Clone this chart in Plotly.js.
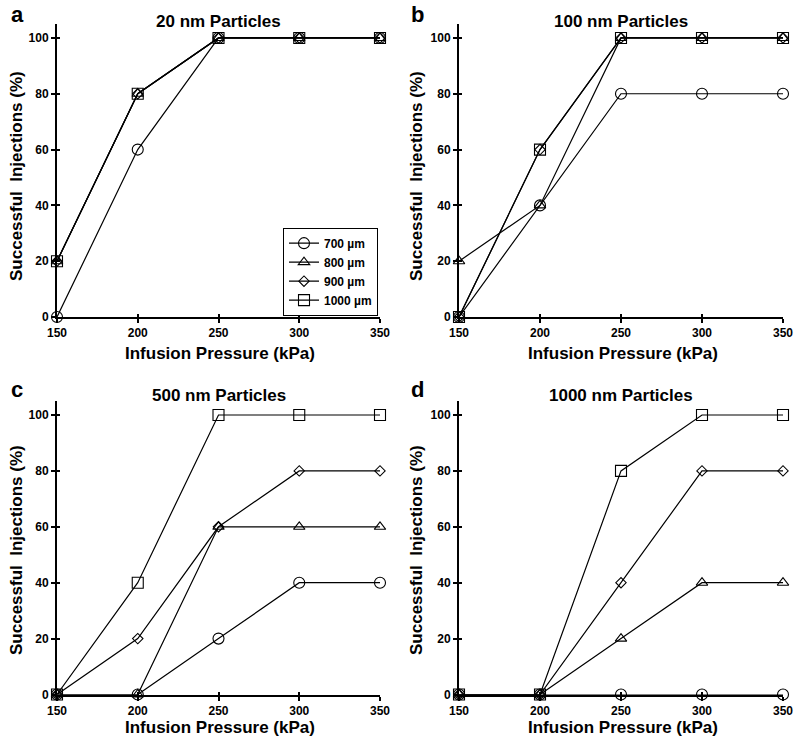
<!DOCTYPE html>
<html>
<head>
<meta charset="utf-8">
<script src="https://cdn.plot.ly/plotly-3.0.1.min.js"></script>
<style>html,body{margin:0;padding:0;background:#fff;}#chart{width:800px;height:748px;}</style>
</head>
<body>
<div id="chart"></div>
<script>
// ---------- data ----------
const pressure = [150, 200, 250, 300, 350];
const seriesNames = ['700 µm', '800 µm', '900 µm', '1000 µm'];
const panelTitles = ['20 nm Particles', '100 nm Particles', '500 nm Particles', '1000 nm Particles'];
const panelLetters = ['a', 'b', 'c', 'd'];
const xTicks = [150, 200, 250, 300, 350];
const yTicks = [0, 20, 40, 60, 80, 100];

// panel a: 20 nm
const a700  = [0, 60, 100, 100, 100];
const a800  = [20, 80, 100, 100, 100];
const a900  = [20, 80, 100, 100, 100];
const a1000 = [20, 80, 100, 100, 100];
// panel b: 100 nm
const b700  = [0, 40, 80, 80, 80];
const b800  = [20, 40, 100, 100, 100];
const b900  = [0, 60, 100, 100, 100];
const b1000 = [0, 60, 100, 100, 100];
// panel c: 500 nm
const c700  = [0, 0, 20, 40, 40];
const c800  = [0, 0, 60, 60, 60];
const c900  = [0, 20, 60, 80, 80];
const c1000 = [0, 40, 100, 100, 100];
// panel d: 1000 nm
const d700  = [0, 0, 0, 0, 0];
const d800  = [0, 0, 20, 40, 40];
const d900  = [0, 0, 40, 80, 80];
const d1000 = [0, 0, 80, 100, 100];

const panels = [
  [a700, a800, a900, a1000],
  [b700, b800, b900, b1000],
  [c700, c800, c900, c1000],
  [d700, d800, d900, d1000]
];

// ---------- styling ----------
const FONT = 'Liberation Sans, Arial, Helvetica, sans-serif';
const symbols = ['circle-open', 'triangle-up-open', 'diamond-open', 'square-open'];
const msizes = [11, 10, 8, 11];

const xDomains = [[0.07125, 0.475], [0.57375, 0.97875], [0.07125, 0.475], [0.57375, 0.97875]];
const yDomains = [[0.5762, 0.9679], [0.5762, 0.9679], [0.0715, 0.4639], [0.0715, 0.4639]];

const traces = [];
panels.forEach((series, p) => {
  const xa = p === 0 ? 'x' : 'x' + (p + 1);
  const ya = p === 0 ? 'y' : 'y' + (p + 1);
  series.forEach((vals, s) => {
    traces.push({
      x: pressure, y: vals, type: 'scatter', mode: 'lines+markers',
      name: seriesNames[s], xaxis: xa, yaxis: ya,
      line: {color: 'black', width: 1.2},
      marker: {symbol: symbols[s], size: msizes[s], color: 'black', line: {width: 1.1, color: 'black'}},
      cliponaxis: false, showlegend: p === 0, hoverinfo: 'skip'
    });
  });
  // dummy trace for overlay axes carrying inside ticks
  traces.push({
    x: [pressure[0]], y: [0], type: 'scatter', mode: 'markers',
    xaxis: 'x' + (p + 5), yaxis: 'y' + (p + 5),
    marker: {opacity: 0, size: 1}, showlegend: false, hoverinfo: 'skip'
  });
});

const tickFont = {family: FONT, size: 12, color: 'black', weight: 'bold'};
const layout = {
  width: 800, height: 748,
  margin: {l: 0, r: 0, t: 0, b: 0},
  paper_bgcolor: 'white', plot_bgcolor: 'rgba(0,0,0,0)',
  font: {family: FONT, color: 'black'},
  showlegend: true,
  legend: {
    x: 0.4725, xanchor: 'right', y: 0.578, yanchor: 'bottom',
    bgcolor: 'white', bordercolor: 'black', borderwidth: 1,
    font: {family: FONT, size: 12, color: 'black', weight: 'bold'},
    tracegroupgap: 0, itemwidth: 30
  },
  annotations: []
};

for (let p = 0; p < 4; p++) {
  const xk = p === 0 ? 'xaxis' : 'xaxis' + (p + 1);
  const yk = p === 0 ? 'yaxis' : 'yaxis' + (p + 1);
  const xa = p === 0 ? 'x' : 'x' + (p + 1);
  const ya = p === 0 ? 'y' : 'y' + (p + 1);
  layout[xk] = {
    domain: xDomains[p], anchor: ya, range: [150, 350],
    tickmode: 'array', tickvals: xTicks, ticktext: xTicks.map(String),
    showline: true, linewidth: 2, linecolor: 'black',
    ticks: 'outside', ticklen: 4, tickwidth: 2, tickcolor: 'black',
    showgrid: false, zeroline: false, tickfont: tickFont, fixedrange: true
  };
  layout[yk] = {
    domain: yDomains[p], anchor: xa, range: [0, 105],
    tickmode: 'array', tickvals: yTicks, ticktext: yTicks.map(String),
    showline: true, linewidth: 2, linecolor: 'black',
    ticks: 'outside', ticklen: 4, tickwidth: 2, tickcolor: 'black',
    showgrid: false, zeroline: false, tickfont: tickFont, fixedrange: true
  };
  // overlay axes with inside ticks (to make crossing ticks)
  layout['xaxis' + (p + 5)] = {
    overlaying: xa, anchor: 'y' + (p + 5), range: [150, 350], side: 'bottom',
    tickmode: 'array', tickvals: xTicks, showticklabels: false,
    ticks: 'inside', ticklen: 3, tickwidth: 2, tickcolor: 'black',
    showline: false, showgrid: false, zeroline: false, fixedrange: true
  };
  layout['yaxis' + (p + 5)] = {
    overlaying: ya, anchor: 'x' + (p + 5), range: [0, 105], side: 'left',
    tickmode: 'array', tickvals: yTicks, showticklabels: false,
    ticks: 'inside', ticklen: 3, tickwidth: 2, tickcolor: 'black',
    showline: false, showgrid: false, zeroline: false, fixedrange: true
  };

  const xc = (xDomains[p][0] + xDomains[p][1]) / 2;
  const top = p < 2 ? 0 : 374;
  const left = p % 2 === 0 ? 0 : 400;
  // panel title
  layout.annotations.push({
    text: panelTitles[p], xref: 'paper', yref: 'paper', x: xc, y: 1 - (top + 21) / 748,
    xanchor: 'center', yanchor: 'middle', showarrow: false,
    font: {family: FONT, size: 17, color: 'black', weight: 'bold'}
  });
  // panel letter
  layout.annotations.push({
    text: panelLetters[p], xref: 'paper', yref: 'paper', x: (left + 17) / 800, y: 1 - (top + 15) / 748,
    xanchor: 'center', yanchor: 'middle', showarrow: false,
    font: {family: FONT, size: 22, color: 'black', weight: 'bold'}
  });
  // x axis title
  layout.annotations.push({
    text: 'Infusion Pressure (kPa)', xref: 'paper', yref: 'paper', x: xc + 0.002, y: 1 - (top + 353) / 748,
    xanchor: 'center', yanchor: 'middle', showarrow: false,
    font: {family: FONT, size: 17, color: 'black', weight: 'bold'}
  });
  // y axis title
  layout.annotations.push({
    text: 'Successful\u00A0\u00A0Injections (%)', xref: 'paper', yref: 'paper',
    x: (left + 16) / 800, y: 1 - (top + 176) / 748, textangle: -90,
    xanchor: 'center', yanchor: 'middle', showarrow: false,
    font: {family: FONT, size: 17, color: 'black', weight: 'bold'}
  });
}

Plotly.newPlot('chart', traces, layout, {displayModeBar: false, staticPlot: true});
</script>
</body>
</html>
